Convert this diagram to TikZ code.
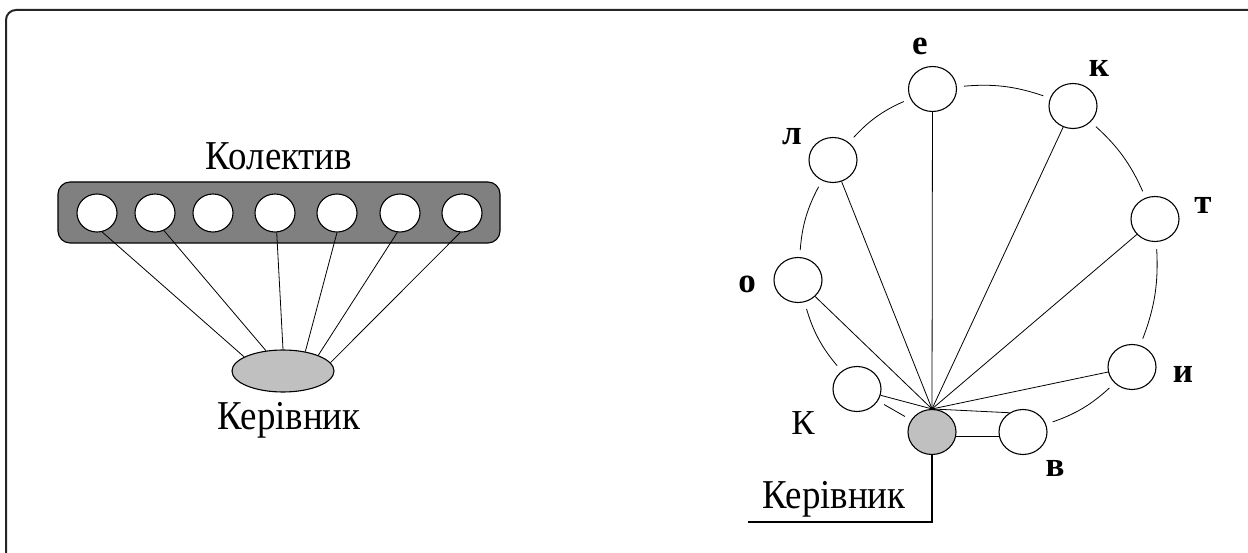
\documentclass[tikz,border=0pt]{standalone}
\usepackage{graphicx}
\usepackage{fontspec}
\setmainfont{Liberation Serif}
\usetikzlibrary{shapes.geometric}
\definecolor{bargray}{RGB}{128,128,128}
\definecolor{lightg}{RGB}{192,192,192}
\newcommand{\narrowtxt}[1]{\scalebox{0.9}[1]{#1}}
\tikzset{
  member/.style={draw=black, line width=1.1pt, fill=white, ellipse, inner sep=0pt, minimum width=40pt, minimum height=38pt},
  rnode/.style={draw=black, line width=1.1pt, fill=white, ellipse, inner sep=0pt, minimum width=48pt, minimum height=45pt},
  spoke/.style={draw=black, line width=0.8pt},
  ring/.style={draw=black, line width=0.8pt, shorten <=7pt, shorten >=7pt},
  bigtxt/.style={font=\fontsize{41}{44}\selectfont, inner sep=0pt, anchor=base},
  lbl/.style={font=\fontsize{35}{38}\selectfont\bfseries, inner sep=0pt},
}
\begin{document}
\begin{tikzpicture}[x=1pt,y=1pt]
\useasboundingbox (0,0) rectangle (1248,-553);
\clip (0,0) rectangle (1248,-553);
\draw[line width=2pt, draw=black!85, rounded corners=10pt] (6,-10) rectangle (1262,-570);

% ---------- left diagram ----------
\node[draw=black, line width=1.1pt, fill=bargray, rounded corners=12pt, minimum width=442pt, minimum height=61pt, inner sep=0pt] (bar) at (279,-212.5) {};
\node[bigtxt] (kol) at (279,-170) {\narrowtxt{Колектив}};
\foreach \i/\x in {1/97,2/155,3/213,4/275,5/337,6/400,7/462}
  \node[member] (c\i) at (\x,-213) {};
\node[draw=black, line width=1.1pt, fill=lightg, ellipse, inner sep=0pt, minimum width=102pt, minimum height=42pt] (ell) at (283,-371) {};
\node[bigtxt] (ker1) at (289,-429) {\narrowtxt{Керівник}};
\draw[spoke] (c1.-75) -- (ell.160);
\draw[spoke] (c2.-63) -- (ell.130);
\draw[spoke] (c4.-85) -- (ell.90);
\draw[spoke] (c5.-90) -- (ell.41);
\draw[spoke] (c6.-98) -- (ell.24);
\draw[spoke] (c7.-95) -- (ell.10);

% ---------- right diagram ----------
\node[rnode] (ne) at (932.5,-89) {};
\node[rnode] (nk) at (1073,-106) {};
\node[rnode] (nl) at (833,-160) {};
\node[rnode] (nt) at (1155,-219) {};
\node[rnode] (no) at (798,-280) {};
\node[rnode] (ni) at (1132,-367) {};
\node[rnode] (nK) at (857,-389) {};
\node[rnode] (nv) at (1023,-432) {};
\node[rnode, fill=lightg] (g) at (932,-432) {};

\node[lbl] (le) at (920,-46) {е};
\node[lbl] (lk) at (1099,-68) {к};
\node[lbl] (ll) at (792,-137) {л};
\node[lbl] (lt) at (1203,-205) {т};
\node[lbl] (lo) at (747,-284) {о};
\node[lbl] (li) at (1183,-374) {и};
\node[lbl] (lv) at (1055,-468) {в};
\node[font=\fontsize{35}{38}\selectfont, inner sep=0pt] (lK) at (803,-423) {К};

% ring
\draw[ring] (ne) to[bend left=12] (nk);
\draw[ring] (nk) to[bend left=12] (nt);
\draw[ring] (nt) to[bend left=12] (ni);
\draw[ring] (ni) to[bend left=12] (nv);
\draw[ring] (nl) to[bend left=12] (ne);
\draw[ring] (no) to[bend left=12] (nl);
\draw[ring] (nK) to[bend left=12] (no);
\draw[ring] (nK) to (g);

% spokes
\foreach \n in {nl,ne,nk,nt,no,ni,nK}
  \draw[spoke] (\n) -- (g.north);
\draw[spoke] (g.north) -- (nv.125);
\draw[spoke] (g.-10) -- (nv.190);

% leader
\coordinate (ldr) at (748,-522);
\draw[line width=2pt] (g.south) |- (ldr);
\node[bigtxt] (ker2) at (834,-508) {\narrowtxt{Керівник}};
\end{tikzpicture}
\end{document}
